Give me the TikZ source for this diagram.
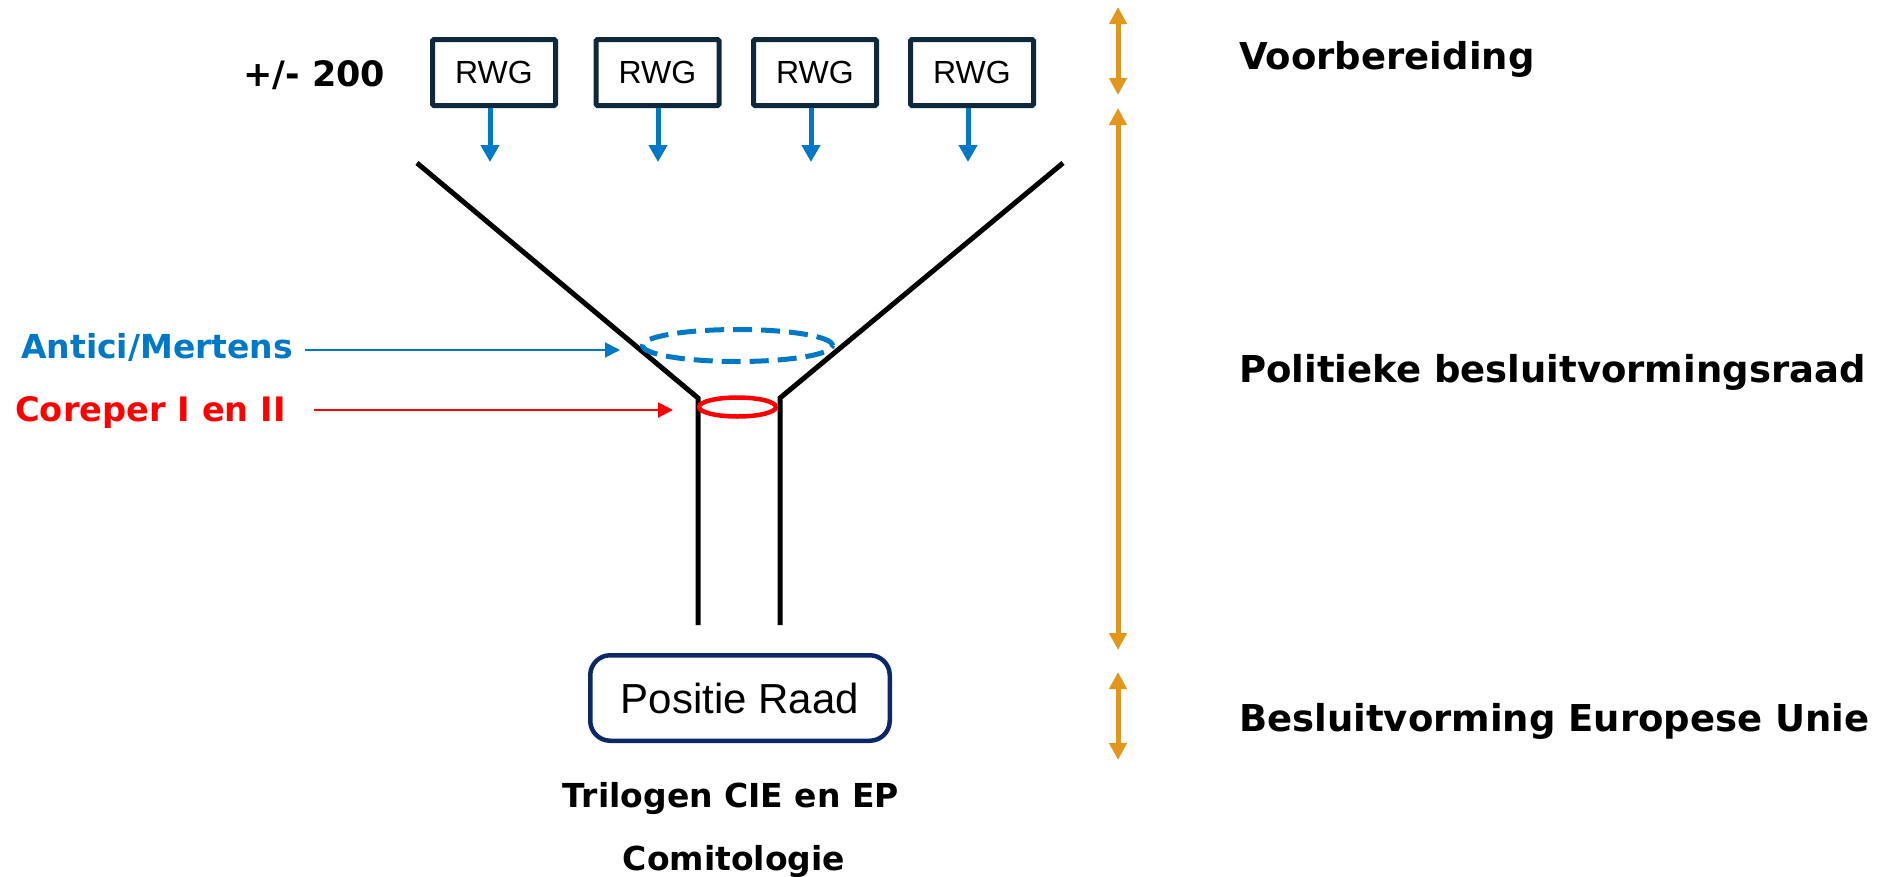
\documentclass[tikz,border=0pt]{standalone}
\usepackage{fontspec}
\setmainfont{DejaVu Sans}
\newfontfamily\arialf{Liberation Sans}
\usetikzlibrary{arrows.meta,shapes.geometric}
\definecolor{navy}{RGB}{14,41,60}
\definecolor{navyb}{RGB}{12,40,105}
\definecolor{eublue}{RGB}{0,120,200}
\definecolor{eured}{RGB}{255,0,0}
\definecolor{amber}{RGB}{226,150,28}
\begin{document}
\begin{tikzpicture}[x=1pt,y=-1pt,
  rwg/.style={draw=navy, line width=5pt, rounded corners=1.5pt, minimum width=123pt, minimum height=66pt, inner sep=0pt, font=\arialf\fontsize{32}{38}\selectfont},
  posbox/.style={draw=navyb, line width=4.5pt, rounded corners=20pt, minimum width=299.5pt, minimum height=85.5pt, inner sep=0pt, font=\arialf\fontsize{42}{48}\selectfont},
  lbl/.style={inner sep=0pt, font=\bfseries\fontsize{33}{40}\selectfont},
  sidelbl/.style={inner sep=0pt, anchor=base west, font=\bfseries\fontsize{37}{44}\selectfont},
  downarrow/.style={draw=eublue, line width=5pt, -{Triangle[width=18pt,length=17pt]}},
  spanarrow/.style={draw=amber, line width=5pt, {Triangle[width=17pt,length=17pt]}-{Triangle[width=17pt,length=17pt]}},
  funnel/.style={draw=black, line width=5pt, line join=miter},
  pointer/.style={line width=2pt, -{Triangle[width=15pt,length=15pt]}}
]
\useasboundingbox (0,0) rectangle (1883,876);

% RWG boxes
\node[rwg] (r1) at (494,72.5) {RWG};
\node[rwg] (r2) at (657.5,72.5) {RWG};
\node[rwg] (r3) at (815,72.5) {RWG};
\node[rwg] (r4) at (972,72.5) {RWG};
\node[lbl, anchor=base west, font=\bfseries\fontsize{35}{42}\selectfont] (count) at (243,86) {+/- 200};

\coordinate (t1) at (490,162);
\coordinate (t2) at (658,162);
\coordinate (t3) at (811,162);
\coordinate (t4) at (968,162);
\draw[downarrow] (r1.south -| t1) -- (t1);
\draw[downarrow] (r2.south -| t2) -- (t2);
\draw[downarrow] (r3.south -| t3) -- (t3);
\draw[downarrow] (r4.south -| t4) -- (t4);

% funnel
\coordinate (fl1) at (417,163);
\coordinate (fl2) at (698,398);
\coordinate (fl3) at (698,625);
\coordinate (fr1) at (1063,163);
\coordinate (fr2) at (780,398);
\coordinate (fr3) at (780,625);
\draw[funnel] (fl1) -- (fl2) -- (fl3);
\draw[funnel] (fr1) -- (fr2) -- (fr3);

% ellipses
\node[ellipse, draw=eublue, line width=5pt, dash pattern=on 19pt off 9pt, minimum width=190pt, minimum height=32pt, inner sep=0pt] (am) at (737.5,345.5) {};
\node[ellipse, draw=eured, line width=4.5pt, minimum width=77pt, minimum height=19pt, inner sep=0pt] (cr) at (737.5,407) {};

% left labels
\node[lbl, anchor=base west, text=eublue] (lblA) at (21,358) {Antici/Mertens};
\node[lbl, anchor=base west, text=eured, font=\bfseries\fontsize{33.7}{40}\selectfont] (lblC) at (15,421) {Coreper I en II};
\coordinate (tipA) at (620,350);
\coordinate (tipC) at (673,410);
\draw[pointer, eublue] (lblA.east |- tipA) ++(12,0) -- (tipA);
\draw[pointer, eured] (lblC.east |- tipC) ++(28,0) -- (tipC);

% Positie Raad
\node[posbox] (pos) at (740,698) {Positie Raad};
\node[lbl, anchor=base] (tri) at (731,807) {Trilogen CIE en EP};
\node[lbl, anchor=base] (comi) at (734,870) {Comitologie};

% span arrows
\coordinate (o1a) at (1118,7);
\coordinate (o1b) at (1118,95);
\coordinate (o2a) at (1118,108);
\coordinate (o2b) at (1118,650);
\coordinate (o3a) at (1118,672);
\coordinate (o3b) at (1118,760);
\draw[spanarrow] (o1a) -- (o1b);
\draw[spanarrow] (o2a) -- (o2b);
\draw[spanarrow] (o3a) -- (o3b);

% right labels
\node[sidelbl] (voor) at (1239,69) {Voorbereiding};
\node[sidelbl] (pol) at (1239,382) {Politieke besluitvormingsraad};
\node[sidelbl] (bes) at (1239,731) {Besluitvorming Europese Unie};
\end{tikzpicture}
\end{document}
